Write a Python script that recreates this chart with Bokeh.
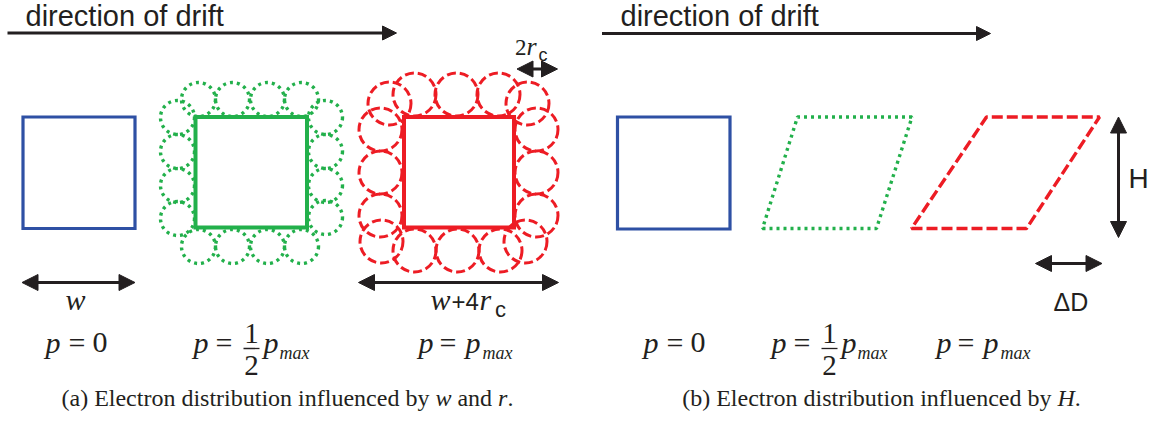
from bokeh.plotting import figure
from bokeh.models import Range1d, Arrow, NormalHead, ColumnDataSource
from bokeh.core.properties import value
from bokeh.embed import file_html
from bokeh.resources import INLINE

# ---------------- diagram content (pixel units of the picture) ----------------
BLUE, GREEN, RED, INK = "#2E50A4", "#22B04B", "#ED1C24", "#231F20"
SERIF, SANS = "Liberation Serif", "Liberation Sans"

# squares (panel a and blue square of panel b)
sq_left   = [22.5, 195.0, 403.5, 617.0]
sq_right  = [134.5, 306.5, 513.5, 729.5]
sq_top    = [116.5, 116.5, 116.5, 116.5]
sq_bottom = [228.0, 227.0, 227.0, 228.5]
sq_color  = [BLUE, GREEN, RED, BLUE]
sq_width  = [3.2, 4.0, 4.0, 3.2]

# circles of gyration, green (p = pmax/2)
green_cx = [198, 232, 267, 301, 198, 232, 267, 301, 177, 177, 177, 177, 325, 325, 325, 325]
green_cy = [99, 99, 99, 99, 246, 246, 246, 246, 117, 151, 185, 218, 117, 151, 185, 217]
green_r = 17

# circles of gyration, red (p = pmax)
red_cx = [414, 456, 498, 389, 527, 380, 380, 380, 536, 536, 536, 381, 525, 414, 457, 500]
red_cy = [94, 94, 94, 103, 103, 129, 172, 215, 129, 172, 215, 241, 241, 250, 250, 250]
red_r = 21.5

# sheared distributions (panel b)
green_px = [762, 876, 911.5, 797]
green_py = [228, 228, 116.5, 116.5]
red_px = [911, 1026, 1099, 986]
red_py = [228, 228, 116.5, 116.5]

# arrows
drift_x0, drift_x1, drift_y = [7, 601.5], [396, 990], [32.5, 33]
dim_x0 = [21.5, 358, 516.5, 1118, 1035]
dim_y0 = [282, 282, 68.5, 116.5, 263]
dim_x1 = [134.5, 558, 557, 1118, 1101.5]
dim_y1 = [282, 282, 68.5, 237, 263]

# texts
drift_text = "direction of drift"
caption_a = ["(a) Electron distribution influenced by", "w", "and", "r", "."]
caption_b = ["(b) Electron distribution influenced by", "H", "."]

W, H = 1155, 421
p = figure(width=W, height=H, x_range=Range1d(0, W), y_range=Range1d(H, 0),
           output_backend="svg", toolbar_location=None, min_border=0,
           x_axis_type=None, y_axis_type=None)
p.outline_line_color = None
p.xgrid.visible = False
p.ygrid.visible = False

# circles first (under squares)
p.circle(x=green_cx, y=green_cy, radius=green_r, fill_color=None, line_color=GREEN,
         line_width=3.4, line_dash="3 4")
p.circle(x=red_cx, y=red_cy, radius=red_r, fill_color=None, line_color=RED,
         line_width=3.0, line_dash="9 4")

for l, r, t, b, c, w in zip(sq_left, sq_right, sq_top, sq_bottom, sq_color, sq_width):
    p.quad(left=[l], right=[r], top=[t], bottom=[b], fill_color=None, line_color=c,
           line_width=w, line_join="miter")

p.patches(xs=[green_px], ys=[green_py], fill_color=None, line_color=GREEN,
          line_width=3.4, line_dash="3 4")
p.patches(xs=[red_px], ys=[red_py], fill_color=None, line_color=RED,
          line_width=3.4, line_dash="11 4")

# arrows
src_drift = ColumnDataSource(dict(x0=drift_x0, x1=drift_x1, y=drift_y))
p.add_layout(Arrow(source=src_drift, x_start="x0", y_start="y", x_end="x1", y_end="y",
                   line_color=INK, line_width=3,
                   end=NormalHead(size=14, fill_color=INK, line_color=INK, line_width=1)))
src_dim = ColumnDataSource(dict(x0=dim_x0, y0=dim_y0, x1=dim_x1, y1=dim_y1))
p.add_layout(Arrow(source=src_dim, x_start="x0", y_start="y0", x_end="x1", y_end="y1",
                   line_color=INK, line_width=3,
                   start=NormalHead(size=16, fill_color=INK, line_color=INK, line_width=1),
                   end=NormalHead(size=16, fill_color=INK, line_color=INK, line_width=1)))

K = 0.36  # baseline correction observed for svg text placement


def put(x, y, s, font, size, style="normal", align="left"):
    p.text(x=[x], y=[y - K * size], text=[s], text_font=value(font), text_font_size=f"{size}px",
           text_font_style=style, text_align=align, text_baseline="alphabetic",
           text_color=INK)


put(25, 25.5, drift_text, SANS, 29)
put(620, 26, drift_text, SANS, 29)

# dimension labels
put(75, 310, "w", SERIF, 30, "italic", "center")
put(430, 310, "w", SERIF, 30, "italic")
put(451, 310, "+4", SANS, 24)
put(479, 310, "r", SERIF, 30, "italic")
put(494.5, 317, "c", SANS, 22)
put(514.5, 55, "2", SERIF, 23)
put(526, 55, "r", SERIF, 26, "italic")
put(538, 61, "c", SANS, 18)
put(1053, 310, "\u0394D", SANS, 25)
put(1128, 188, "H", SANS, 28)

# pressure labels
BL = 353


def p_zero(x):
    put(x, BL, "p", SERIF, 30, "italic")
    put(x + 23, BL, "=", SERIF, 30)
    put(x + 47, BL, "0", SERIF, 30)


def p_half(x):
    put(x, BL, "p", SERIF, 30, "italic")
    put(x + 22, BL, "=", SERIF, 30)
    put(x + 58, BL - 10, "1", SERIF, 29, "normal", "center")
    put(x + 58, BL + 22, "2", SERIF, 29, "normal", "center")
    p.segment(x0=[x + 50], y0=[BL - 5], x1=[x + 66], y1=[BL - 5], line_color=INK, line_width=1.3)
    put(x + 70, BL, "p", SERIF, 30, "italic")
    put(x + 86, BL + 6, "max", SERIF, 18, "italic")


def p_max(x):
    put(x, BL, "p", SERIF, 30, "italic")
    put(x + 21, BL, "=", SERIF, 30)
    put(x + 47, BL, "p", SERIF, 30, "italic")
    put(x + 64, BL + 6, "max", SERIF, 18, "italic")


p_zero(45)
p_half(193)
p_max(418)
p_zero(643)
p_half(771)
p_max(936)

# captions (Times metrics for run placement)
put(61, 406.5, caption_a[0], SERIF, 24)
put(434.9, 406.5, caption_a[1], SERIF, 24, "italic")
put(456.9, 406.5, caption_a[2], SERIF, 24)
put(497.6, 406.5, caption_a[3], SERIF, 24, "italic")
put(506.9, 406.5, caption_a[4], SERIF, 24)
put(681.7, 406.5, caption_b[0], SERIF, 24)
put(1057.0, 406.5, caption_b[1], SERIF, 24, "italic")
put(1074.3, 406.5, caption_b[2], SERIF, 24)

open("out.html", "w").write(file_html(p, INLINE))
